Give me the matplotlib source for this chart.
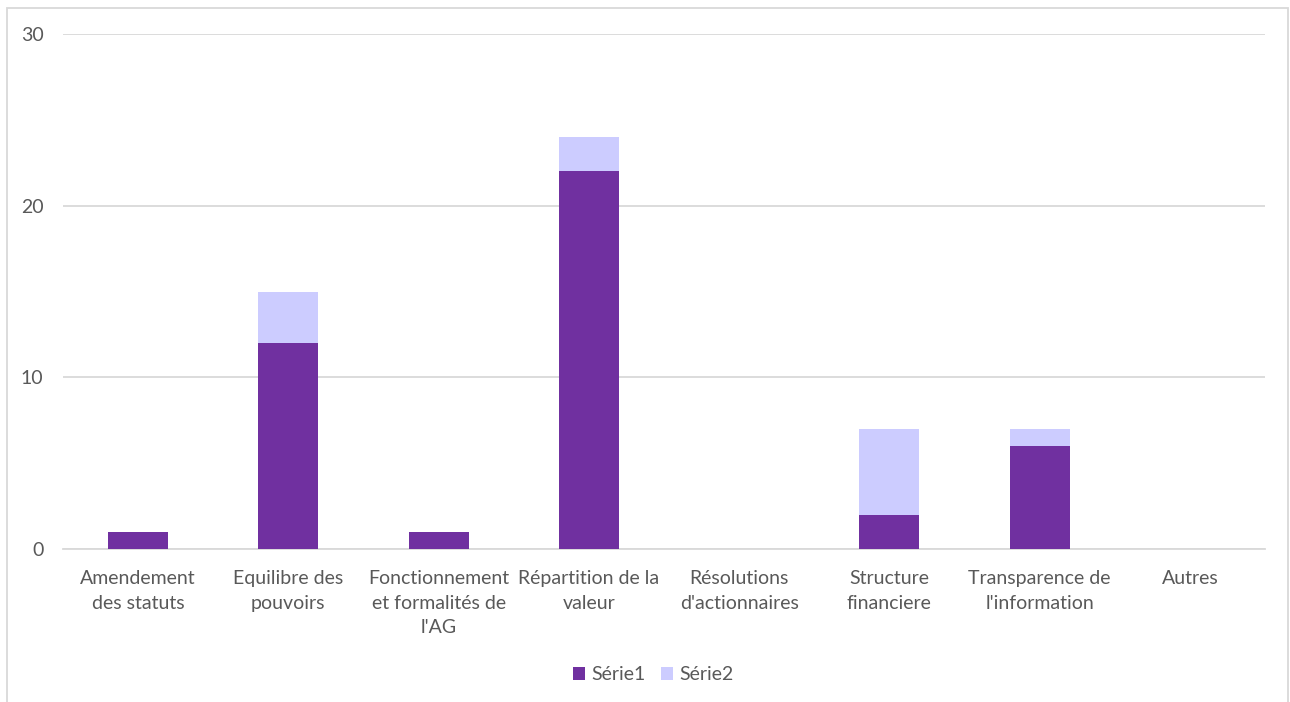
import numpy as np
import matplotlib
matplotlib.use('Agg')
import matplotlib.pyplot as plt
from matplotlib.patches import Rectangle

plt.rcParams['font.family'] = ['Lato', 'DejaVu Sans']

categories = ["Amendement\ndes statuts", "Equilibre des\npouvoirs",
              "Fonctionnement\net formalités de\nl'AG", "Répartition de la\nvaleur",
              "Résolutions\nd'actionnaires", "Structure\nfinanciere",
              "Transparence de\nl'information", "Autres"]
serie1 = [1, 12, 1, 22, 0, 2, 6, 0]
serie2 = [0, 3, 0, 2, 0, 5, 1, 0]

text_col = '#595959'
grid_col = '#D9D9D9'

fig = plt.figure(figsize=(12.9, 7.02), dpi=100)
ax = fig.add_axes([63 / 1290, 1 - 549 / 702, 1202 / 1290, 515 / 702])

x = np.arange(len(categories))
ax.bar(x, serie1, width=0.4, color='#7030A0', label='Série1', zorder=3)
ax.bar(x, serie2, width=0.4, bottom=serie1, color='#CCCCFF', label='Série2', zorder=3)

ax.set_xlim(-0.5, len(categories) - 0.5)
ax.set_ylim(0, 30)
ax.set_yticks([0, 10, 20, 30])
ax.yaxis.grid(True, color=grid_col, linewidth=1.3, zorder=0)
for s in ['top', 'right', 'left']:
    ax.spines[s].set_visible(False)
ax.spines['bottom'].set_color(grid_col)
ax.spines['bottom'].set_linewidth(1.3)
ax.tick_params(axis='both', length=0, colors=text_col, labelsize=14)
ax.tick_params(axis='y', pad=14)
ax.tick_params(axis='x', pad=15)
ax.set_xticks(x)
ax.set_xticklabels(categories, linespacing=1.55)

ax.legend(loc='center', bbox_to_anchor=(653 / 1290, (702 - 675) / 702), bbox_transform=fig.transFigure,
          ncol=2, frameon=False, fontsize=14, labelcolor=text_col,
          handlelength=0.65, handleheight=0.65, handletextpad=0.3, columnspacing=0.8)

# light border around the chart area
fig.patches.append(Rectangle((7 / 1290, -0.05), 1281 / 1290, 1.05 - 8 / 702,
                             transform=fig.transFigure, fill=False,
                             edgecolor='#D9D9D9', linewidth=1.3))

fig.savefig('out.png', dpi=100)
